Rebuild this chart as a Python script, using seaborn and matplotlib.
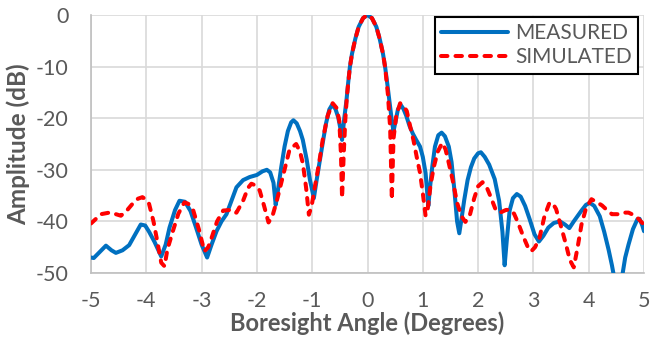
import matplotlib
matplotlib.use("Agg")
import matplotlib.pyplot as plt
import seaborn as sns
import pandas as pd

# ---------------- data ----------------
measured_angle = [
    -5.00, -4.95, -4.85, -4.73, -4.63, -4.55, -4.43, -4.31, -4.20, -4.10,
    -4.02, -3.95, -3.85, -3.73, -3.65, -3.58, -3.48, -3.40, -3.30, -3.20,
    -3.10, -3.00, -2.90, -2.82, -2.73, -2.64, -2.55, -2.46, -2.37, -2.25,
    -2.13, -2.00, -1.90, -1.82, -1.76, -1.70, -1.66, -1.62, -1.56, -1.50,
    -1.44, -1.38, -1.34, -1.28, -1.22, -1.17, -1.10, -1.04, -0.97, -0.92,
    -0.86, -0.81, -0.75, -0.69, -0.64, -0.58, -0.53, -0.49, -0.46, -0.42,
    -0.38, -0.35, -0.32, -0.28, -0.22, -0.16, -0.08, 0.00, 0.08, 0.16,
    0.22, 0.28, 0.32, 0.36, 0.40, 0.44, 0.47, 0.51, 0.55, 0.60,
    0.65, 0.70, 0.76, 0.82, 0.88, 0.95, 1.00, 1.05, 1.10, 1.13,
    1.17, 1.22, 1.28, 1.34, 1.40, 1.47, 1.52, 1.57, 1.62, 1.66,
    1.70, 1.75, 1.81, 1.87, 1.93, 2.00, 2.05, 2.12, 2.20, 2.30,
    2.38, 2.44, 2.48, 2.52, 2.57, 2.63, 2.70, 2.77, 2.85, 2.93,
    3.02, 3.10, 3.18, 3.27, 3.37, 3.48, 3.57, 3.65, 3.73, 3.87,
    3.95, 4.02, 4.10, 4.20, 4.28, 4.36, 4.42, 4.48, 4.55, 4.60,
    4.66, 4.72, 4.80, 4.88, 4.92, 4.97, 5.00,
]
measured_db = [
    -47.0, -47.1, -46.0, -44.7, -45.6, -46.1, -45.6, -44.6, -42.5, -40.6,
    -40.8, -42.0, -44.0, -46.8, -44.5, -41.2, -37.8, -36.0, -36.2, -38.0,
    -41.2, -44.5, -47.0, -44.5, -41.9, -40.0, -38.6, -36.0, -33.4, -32.0,
    -31.4, -31.0, -30.3, -30.0, -30.5, -32.5, -36.8, -34.0, -29.5, -25.5,
    -22.5, -20.8, -20.4, -21.0, -22.5, -24.2, -28.0, -32.0, -35.5, -32.0,
    -28.0, -24.8, -21.0, -18.3, -17.4, -18.2, -19.8, -22.0, -24.2, -20.0,
    -16.5, -13.2, -10.2, -7.5, -4.6, -2.3, -0.6, 0.0, -0.6, -2.3,
    -4.6, -7.5, -10.2, -13.5, -17.0, -20.5, -22.5, -20.5, -18.3, -17.4,
    -18.2, -19.5, -21.5, -23.0, -24.2, -25.5, -27.5, -30.6, -37.0, -33.5,
    -29.5, -25.5, -23.3, -22.8, -23.5, -25.5, -28.5, -33.8, -40.0, -42.3,
    -39.5, -35.8, -32.0, -29.5, -27.8, -26.8, -26.6, -27.5, -29.0, -31.8,
    -36.0, -42.0, -48.5, -43.5, -37.9, -35.5, -34.7, -35.2, -37.0, -39.5,
    -42.5, -43.9, -42.8, -41.2, -40.3, -40.0, -40.6, -41.3, -40.0, -37.9,
    -36.8, -36.4, -37.0, -39.0, -42.0, -45.5, -48.5, -52.0, -53.0, -51.0,
    -47.0, -44.5, -41.5, -39.6, -39.5, -40.8, -41.9,
]

simulated_angle = [
    -5.00, -4.92, -4.82, -4.67, -4.55, -4.46, -4.36, -4.25, -4.15, -4.07,
    -4.00, -3.95, -3.87, -3.79, -3.73, -3.67, -3.62, -3.52, -3.42, -3.31,
    -3.24, -3.15, -3.05, -2.95, -2.88, -2.82, -2.72, -2.61, -2.50, -2.44,
    -2.37, -2.25, -2.16, -2.10, -2.03, -1.95, -1.87, -1.79, -1.72, -1.64,
    -1.53, -1.41, -1.29, -1.22, -1.17, -1.11, -1.06, -1.01, -0.96, -0.88,
    -0.81, -0.72, -0.63, -0.56, -0.51, -0.48, -0.46, -0.43, -0.40, -0.37,
    -0.32, -0.28, -0.22, -0.16, -0.08, 0.00, 0.08, 0.16, 0.22, 0.28,
    0.32, 0.37, 0.41, 0.44, 0.47, 0.52, 0.59, 0.66, 0.71, 0.77,
    0.83, 0.89, 0.95, 1.00, 1.05, 1.09, 1.14, 1.20, 1.27, 1.35,
    1.41, 1.47, 1.54, 1.62, 1.70, 1.77, 1.85, 1.93, 2.00, 2.08,
    2.16, 2.23, 2.32, 2.40, 2.50, 2.57, 2.65, 2.72, 2.82, 2.90,
    2.96, 3.03, 3.11, 3.20, 3.29, 3.35, 3.41, 3.50, 3.59, 3.66,
    3.73, 3.80, 3.87, 3.95, 4.05, 4.15, 4.24, 4.33, 4.42, 4.52,
    4.62, 4.72, 4.82, 4.90, 4.96, 5.00,
]
simulated_db = [
    -40.4, -39.6, -38.6, -38.3, -38.6, -38.9, -38.0, -36.6, -35.6, -35.3,
    -35.8, -36.6, -40.0, -44.5, -48.0, -48.7, -45.5, -41.9, -38.5, -36.3,
    -36.6, -37.9, -41.5, -45.8, -45.0, -43.2, -40.0, -37.9, -37.8, -38.3,
    -38.3, -36.0, -33.5, -32.7, -33.0, -34.0, -37.0, -40.2, -39.0, -36.0,
    -31.3, -26.1, -25.0, -26.5, -28.7, -33.5, -38.7, -37.0, -33.8, -29.0,
    -24.2, -19.5, -17.1, -18.0, -20.5, -27.0, -35.5, -27.0, -20.0, -15.5,
    -10.2, -7.5, -4.6, -2.3, -0.6, 0.0, -0.6, -2.3, -4.6, -7.5,
    -10.2, -15.5, -22.0, -35.8, -24.0, -19.5, -17.1, -17.8, -18.6, -21.5,
    -24.2, -27.5, -30.6, -34.5, -38.9, -37.5, -33.0, -29.4, -26.5, -24.8,
    -26.0, -28.7, -32.0, -36.4, -39.0, -40.1, -38.8, -35.5, -33.2, -32.4,
    -33.5, -35.3, -37.8, -38.3, -37.8, -37.7, -38.5, -40.2, -43.0, -45.0,
    -45.8, -45.0, -43.2, -39.0, -36.4, -36.5, -37.6, -41.0, -44.5, -47.5,
    -48.9, -45.0, -40.6, -37.5, -35.7, -36.3, -36.9, -37.8, -38.6, -38.6,
    -38.3, -38.3, -38.8, -39.5, -40.2, -40.6,
]

series_names = ["MEASURED", "SIMULATED"]
x_ticks = [-5, -4, -3, -2, -1, 0, 1, 2, 3, 4, 5]
y_ticks = [-50, -40, -30, -20, -10, 0]
x_label = "Boresight Angle (Degrees)"
y_label = "Amplitude (dB)"

# ---------------- plotting ----------------
sns.set_theme(style="white")
plt.rcParams["font.family"] = ["Lato", "DejaVu Sans"]

df_meas = pd.DataFrame({"angle": measured_angle, "db": measured_db})
df_sim = pd.DataFrame({"angle": simulated_angle, "db": simulated_db})

fig = plt.figure(figsize=(6.5, 3.46), dpi=100)
ax = fig.add_axes([91 / 650, 1 - 273 / 346, (644 - 91) / 650, (273 - 15) / 346])

grid_c = "#d9d9d9"
text_c = "#595959"

sns.lineplot(data=df_meas, x="angle", y="db", ax=ax, color="#0070C0",
             linewidth=2.9, label=series_names[0],
             solid_capstyle="round", solid_joinstyle="round", zorder=3)
sns.lineplot(data=df_sim, x="angle", y="db", ax=ax, color="#FF0000",
             linewidth=2.9, label=series_names[1],
             linestyle=(0, (1.6, 2.0)), dash_capstyle="round",
             dash_joinstyle="round", zorder=4)

ax.set_xlim(-5, 5)
ax.set_ylim(-50, 0)
ax.set_xticks(x_ticks)
ax.set_yticks(y_ticks)
ax.set_xticklabels([str(v) for v in x_ticks])
ax.set_yticklabels([str(v) for v in y_ticks])
ax.grid(True, color=grid_c, linewidth=1.2)
ax.set_axisbelow(True)

for s in ["top", "right"]:
    ax.spines[s].set_visible(False)
for s in ["left", "bottom"]:
    ax.spines[s].set_color("#bfbfbf")
    ax.spines[s].set_linewidth(1.2)

ax.tick_params(axis="both", length=0, labelsize=15.5, colors=text_c)
ax.tick_params(axis="y", pad=16)
ax.tick_params(axis="x", pad=13)

ax.set_xlabel(x_label, fontsize=17, fontweight="bold", color=text_c, labelpad=0.5)
ax.set_ylabel(y_label, fontsize=17.5, fontweight="bold", color=text_c, labelpad=4)

leg = ax.legend(loc="upper right", bbox_to_anchor=((638 - 91) / 553, (273 - 17) / 258),
                borderaxespad=0, fontsize=15, frameon=True, fancybox=False,
                handlelength=3.2, handletextpad=0.35, labelspacing=0.2,
                borderpad=0.3, labelcolor=text_c)
leg.get_frame().set_edgecolor("black")
leg.get_frame().set_linewidth(1.5)
leg.get_frame().set_facecolor("white")
leg.get_frame().set_alpha(1)

fig.savefig("out.png", dpi=100)
